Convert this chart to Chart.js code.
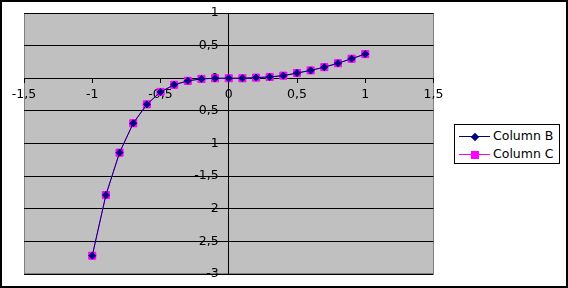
<!DOCTYPE html>
<html>
<head>
<meta charset="utf-8">
<script src="https://cdn.jsdelivr.net/npm/chart.js@4.4.1/dist/chart.umd.min.js"></script>
<style>
  html, body { margin: 0; padding: 0; background: #fff; }
  #wrap { position: relative; width: 568px; height: 288px; }
  #c { position: absolute; left: 0; top: 0; }
  #legend { position: absolute; left: 454px; top: 124px; width: 104px; height: 38px; border: 1px solid #000; background: #fff;
            font-family: "DejaVu Sans", sans-serif; font-size: 12.5px; color: #000; }
  .row { position: absolute; left: 0; height: 14px; width: 104px; }
  .ln { position: absolute; left: 4px; width: 31px; height: 1px; top: 7px; }
  .mk { position: absolute; }
  .tx { position: absolute; left: 38px; top: -1px; line-height: 16px; white-space: nowrap; }
</style>
</head>
<body>
<div id="wrap">
  <canvas id="c" width="568" height="288"></canvas>
  <div id="legend"></div>
</div>
<script>
// Data
const xValues = [-1, -0.9, -0.8, -0.7, -0.6, -0.5, -0.4, -0.3, -0.2, -0.1, 0, 0.1, 0.2, 0.3, 0.4, 0.5, 0.6, 0.7, 0.8, 0.9, 1];
const columnB = [-2.72, -1.79, -1.14, -0.69, -0.40, -0.21, -0.10, -0.04, -0.01, 0.00, 0.00, 0.00, 0.01, 0.02, 0.04, 0.08, 0.12, 0.17, 0.23, 0.30, 0.37];
const columnC = [-2.72, -1.79, -1.14, -0.69, -0.40, -0.21, -0.10, -0.04, -0.01, 0.00, 0.00, 0.00, 0.01, 0.02, 0.04, 0.08, 0.12, 0.17, 0.23, 0.30, 0.37];
const seriesNames = ["Column B", "Column C"];
const xTicks = [-1.5, -1, -0.5, 0, 0.5, 1, 1.5];
const yTicks = [1, 0.5, 0, -0.5, -1, -1.5, -2, -2.5, -3];

const NAVY = '#000080', MAGENTA = '#FF00FF';
const fmt = v => String(v).replace('.', ',');
const pts = ys => xValues.map((x, i) => ({ x: x, y: ys[i] }));

const bgPlugin = {
  id: 'bg',
  beforeDraw(chart) {
    const { ctx, chartArea: a } = chart;
    ctx.save();
    ctx.fillStyle = '#C0C0C0';
    ctx.fillRect(a.left, a.top, a.right - a.left, a.bottom - a.top);
    ctx.strokeStyle = '#808080';
    ctx.lineWidth = 1;
    ctx.strokeRect(Math.round(a.left) + 0.5, Math.round(a.top) + 0.5, Math.round(a.right - a.left) - 1, Math.round(a.bottom - a.top) - 1);
    ctx.restore();
  },
  afterDraw(chart) {
    const ctx = chart.ctx;
    ctx.save();
    ctx.strokeStyle = '#000';
    ctx.lineWidth = 2;
    ctx.strokeRect(1, 1, 566, 286);
    ctx.restore();
  }
};

const font = { family: '"DejaVu Sans", sans-serif', size: 12.5 };

new Chart(document.getElementById('c'), {
  type: 'scatter',
  data: {
    datasets: [
      { label: seriesNames[0], data: pts(columnB), showLine: true, borderColor: NAVY, backgroundColor: NAVY,
        borderWidth: 1, pointStyle: 'rectRot', pointRadius: 3.5, pointBorderWidth: 1, pointBorderColor: NAVY, pointBackgroundColor: NAVY },
      { label: seriesNames[1], data: pts(columnC), showLine: true, borderColor: MAGENTA, backgroundColor: MAGENTA,
        borderWidth: 1, pointStyle: 'rect', pointRadius: 5, pointBorderWidth: 1, pointBorderColor: MAGENTA, pointBackgroundColor: MAGENTA }
    ]
  },
  options: {
    responsive: false,
    animation: false,
    devicePixelRatio: 1,
    layout: { padding: { left: 24, top: 13, right: 134.5, bottom: 14 } },
    plugins: { legend: { display: false }, tooltip: { enabled: false } },
    scales: {
      x: {
        type: 'linear', min: -1.5, max: 1.5,
        position: { y: 0 },
        afterBuildTicks: s => { s.ticks = xTicks.map(v => ({ value: v })); },
        ticks: { callback: fmt, color: '#000', font: font, padding: 5, maxRotation: 0, autoSkip: false },
        grid: { drawOnChartArea: false, drawTicks: true, tickLength: 4, color: '#000' },
        border: { display: true, color: '#000', width: 1 }
      },
      y: {
        type: 'linear', min: -3, max: 1,
        position: 'center',
        afterBuildTicks: s => { s.ticks = yTicks.map(v => ({ value: v })); },
        ticks: { callback: fmt, color: '#000', font: font, padding: 0, autoSkip: false },
        grid: { drawOnChartArea: true, drawTicks: true, tickLength: 10, tickColor: 'rgba(0,0,0,0)', color: '#000' },
        border: { display: true, color: '#000', width: 1 }
      }
    }
  },
  plugins: [bgPlugin]
});

// HTML legend
const legend = document.getElementById('legend');
const legendSpec = [
  { name: seriesNames[0], color: NAVY, shape: 'diamond', top: 4 },
  { name: seriesNames[1], color: MAGENTA, shape: 'square', top: 22 }
];
legendSpec.forEach(s => {
  const row = document.createElement('div');
  row.className = 'row';
  row.style.top = s.top + 'px';
  const ln = document.createElement('div');
  ln.className = 'ln';
  ln.style.background = s.color;
  row.appendChild(ln);
  const mk = document.createElement('div');
  mk.className = 'mk';
  mk.style.background = s.color;
  if (s.shape === 'diamond') {
    mk.style.width = '6px'; mk.style.height = '6px';
    mk.style.left = '17px'; mk.style.top = '4.5px';
    mk.style.transform = 'rotate(45deg)';
  } else {
    mk.style.width = '8px'; mk.style.height = '8px';
    mk.style.left = '16px'; mk.style.top = '3.5px';
  }
  row.appendChild(mk);
  const tx = document.createElement('div');
  tx.className = 'tx';
  tx.textContent = s.name;
  row.appendChild(tx);
  legend.appendChild(row);
});
</script>
</body>
</html>
